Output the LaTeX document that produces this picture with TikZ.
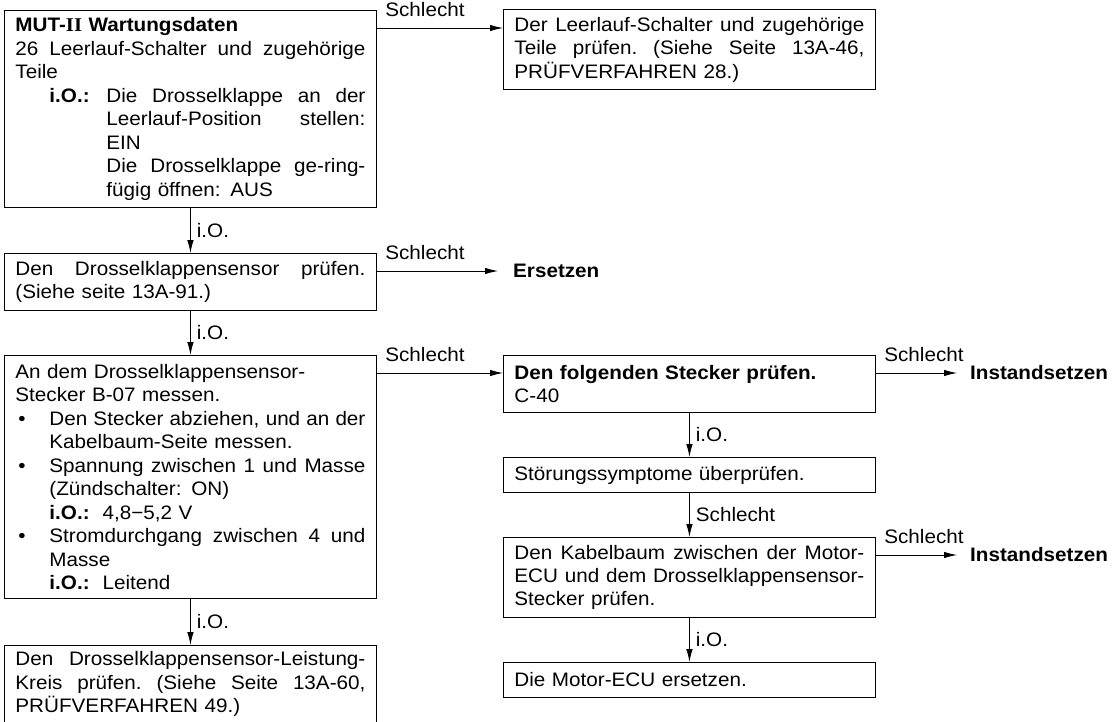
\documentclass[tikz,border=0pt]{standalone}
\usepackage{fontspec}
\setmainfont{Liberation Sans}[FakeStretch=1.06]
\newfontfamily\romanbf{Liberation Serif}[FakeStretch=1.06]
\usetikzlibrary{arrows.meta}

% a justified line: its spaces are stretched to the given width
\newcommand{\jline}[2][350pt]{\makebox[#1][s]{\spaceskip=0.25em plus 1fil\xspaceskip=0.25em plus 1fil\relax #2}}
% bullet with its hanging indent
\newcommand{\bulletmark}{\makebox[34pt][l]{\hspace{3pt}\textbullet}}

\tikzset{
  txt/.style={font=\fontsize{19.5}{23.5}\selectfont},
  flowbox/.style={txt, draw, line width=0.9pt, rectangle, anchor=north west,
    inner xsep=11pt, inner ysep=0pt, align=left, text width=350pt},
  conn/.style={line width=0.9pt, -{Latex[length=13pt,width=6.5pt]}},
  vlabel/.style={txt, midway, anchor=west, inner xsep=6pt, inner ysep=0pt},
  hlabel/.style={txt, pos=0, anchor=base west, xshift=8pt, yshift=12pt, inner sep=0pt},
  term/.style={font=\fontsize{19.5}{23.5}\selectfont\bfseries, anchor=west, inner sep=0pt}
}

\begin{document}
\begin{tikzpicture}[x=1pt, y=-1pt]
\useasboundingbox[fill=white] (0,0) rectangle (1112,721);

% left column
\node[flowbox, minimum height=197pt] (b1) at (4,10) {%
  {\bfseries MUT-{\romanbf II} Wartungsdaten}\\
  \jline{26 Leerlauf-Schalter und zugehörige}\\
  Teile\\
  \hspace*{34pt}\makebox[57pt][l]{\bfseries i.O.:}\jline[259pt]{Die Drosselklappe an der}\\
  \hspace*{91pt}\jline[259pt]{Leerlauf-Position stellen:}\\
  \hspace*{91pt}EIN\\
  \hspace*{91pt}\jline[259pt]{Die Drosselklappe ge-ring-}\\
  \hspace*{91pt}fügig öffnen: AUS};

\node[flowbox, minimum height=57pt] (b2) at (4,253) {%
  \jline{Den Drosselklappensensor prüfen.}\\
  (Siehe seite 13A-91.)};

\node[flowbox, minimum height=243pt] (b3) at (4,355) {%
  An dem Drosselklappensensor-\\
  Stecker B-07 messen.\\
  \bulletmark\jline[316pt]{Den Stecker abziehen, und an der}\\
  \hspace*{34pt}Kabelbaum-Seite messen.\\
  \bulletmark\jline[316pt]{Spannung zwischen 1 und Masse}\\
  \hspace*{34pt}(Zündschalter: ON)\\
  \hspace*{34pt}{\bfseries i.O.:}\ \ 4,8−5,2 V\\
  \bulletmark\jline[316pt]{Stromdurchgang zwischen 4 und}\\
  \hspace*{34pt}Masse\\
  \hspace*{34pt}{\bfseries i.O.:}\ \ Leitend};

% last box runs past the lower edge: only its top and sides are drawn
\node[flowbox, draw=none, inner ysep=6pt] (b4) at (4,645) {%
  \jline{Den Drosselklappensensor-Leistung-}\\
  \jline{Kreis prüfen. (Siehe Seite 13A-60,}\\
  PRÜFVERFAHREN 49.)};
\draw[line width=0.9pt] ([yshift=-120pt]b4.north west) -- (b4.north west)
  -- (b4.north east) -- ([yshift=-120pt]b4.north east);

% right column
\node[flowbox, minimum height=80pt] (tr) at (503,9) {%
  \jline{Der Leerlauf-Schalter und zugehörige}\\
  \jline{Teile prüfen. (Siehe Seite 13A-46,}\\
  PRÜFVERFAHREN 28.)};

\node[flowbox, minimum height=57pt] (b5) at (503,355) {%
  {\bfseries Den folgenden Stecker prüfen.}\\
  C-40};
\node[flowbox, minimum height=35pt] (b6) at (503,457) {Störungssymptome überprüfen.};
\node[flowbox, minimum height=80pt] (b7) at (503,537) {%
  \jline{Den Kabelbaum zwischen der Motor-}\\
  \jline{ECU und dem Drosselklappensensor-}\\
  Stecker prüfen.};
\node[flowbox, minimum height=35pt] (b8) at (503,662) {Die Motor-ECU ersetzen.};

% terminal texts
\node[term] (er) at (513,271) {Ersetzen};
\node[term] (in1) at (970,373) {Instandsetzen};
\node[term] (in2) at (970,555) {Instandsetzen};

% vertical connectors
\draw[conn] (b1.south) -- (b2.north) node[vlabel] {i.O.};
\draw[conn] (b2.south) -- (b3.north) node[vlabel] {i.O.};
\draw[conn] (b3.south) -- (b4.north) node[vlabel] {i.O.};
\draw[conn] (b5.south) -- (b6.north) node[vlabel] {i.O.};
\draw[conn] (b6.south) -- (b7.north) node[vlabel] {Schlecht};
\draw[conn] (b7.south) -- (b8.north) node[vlabel] {i.O.};

% horizontal connectors
\draw[conn] ([yshift=-18pt]b1.north east) -- ([yshift=-18pt]b1.north east -| tr.west)
  node[hlabel] {Schlecht};
\draw[conn] ([yshift=-18pt]b2.north east) -- ([xshift=-15pt]er.west)
  node[hlabel] {Schlecht};
\draw[conn] ([yshift=-18pt]b3.north east) -- ([yshift=-18pt]b3.north east -| b5.west)
  node[hlabel] {Schlecht};
\draw[conn] ([yshift=-18pt]b5.north east) -- ([xshift=-13pt]in1.west)
  node[hlabel] {Schlecht};
\draw[conn] ([yshift=-18pt]b7.north east) -- ([xshift=-13pt]in2.west)
  node[hlabel] {Schlecht};
\end{tikzpicture}
\end{document}
